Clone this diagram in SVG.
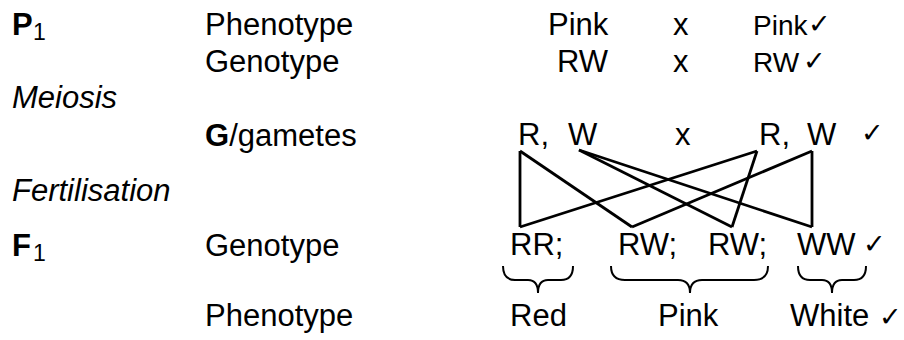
<svg xmlns="http://www.w3.org/2000/svg" width="904" height="340" viewBox="0 0 904 340">
<style>
text{font-family:"Liberation Sans",Arial,sans-serif;font-size:31px;fill:#000}
.b{font-weight:bold}
.i{font-style:italic}
.sub{font-size:23px}
.sm{font-size:28px}
.ck{font-family:"DejaVu Sans",sans-serif;font-size:27px;font-weight:200}
.ln{stroke:#000;stroke-width:2.8;fill:none;stroke-linejoin:miter}
.br{stroke:#000;stroke-width:2;fill:none}
</style>
<rect width="904" height="340" fill="#fff"/>
<g id="labels">
<text x="12" y="35" class="b">P</text><text x="33" y="40" class="sub">1</text>
<text x="205" y="35">Phenotype</text>
<text x="205" y="72">Genotype</text>
<text x="12" y="108" class="i">Meiosis</text>
<text x="205" y="146"><tspan class="b">G</tspan>/gametes</text>
<text x="12" y="201" class="i">Fertilisation</text>
<text x="12" y="256" class="b">F</text><text x="33" y="261" class="sub">1</text>
<text x="205" y="256">Genotype</text>
<text x="205" y="326">Phenotype</text>
</g>
<g id="parents">
<text x="548" y="35">Pink</text>
<text x="673" y="35">x</text>
<text x="753" y="35" class="sm">Pink</text>
<text x="808" y="33" class="ck">✓</text>
<text x="557" y="72">RW</text>
<text x="673" y="72">x</text>
<text x="753" y="72" class="sm">RW</text>
<text x="803" y="70" class="ck">✓</text>
</g>
<g id="gametes">
<text x="518" y="145">R,</text>
<text x="568" y="145">W</text>
<text x="675" y="145">x</text>
<text x="759" y="145">R,</text>
<text x="807" y="145">W</text>
<text x="861" y="142" class="ck">✓</text>
</g>
<g id="connectors" class="ln">
<line x1="520" y1="151" x2="520" y2="227"/>
<line x1="520" y1="151" x2="632" y2="227"/>
<line x1="579" y1="150" x2="732" y2="227"/>
<line x1="579" y1="150" x2="812" y2="227"/>
<line x1="757" y1="151" x2="520" y2="227"/>
<line x1="757" y1="151" x2="732" y2="227"/>
<line x1="812" y1="151" x2="632" y2="227"/>
<line x1="812" y1="151" x2="812" y2="227"/>
</g>
<g id="offspring">
<text x="510" y="255">RR;</text>
<text x="618" y="255">RW;</text>
<text x="708" y="255">RW;</text>
<text x="797" y="255">WW</text>
<text x="863" y="253" class="ck">✓</text>
</g>
<g id="braces" class="br">
<path d="M503,266 Q503,280 515,280 L528,280 Q538,280 538,293 Q538,280 548,280 L561,280 Q573,280 573,266"/>
<path d="M611,266 Q611,280 625,280 L678,280 Q690,280 690,293 Q690,280 702,280 L754,280 Q768,280 768,266"/>
<path d="M798,266 Q798,280 810,280 L822,280 Q832,280 832,293 Q832,280 842,280 L854,280 Q866,280 866,266"/>
</g>
<g id="phenotypes">
<text x="510" y="326">Red</text>
<text x="658" y="326">Pink</text>
<text x="790" y="326">White</text>
<text x="879" y="326" class="ck">✓</text>
</g>
</svg>
